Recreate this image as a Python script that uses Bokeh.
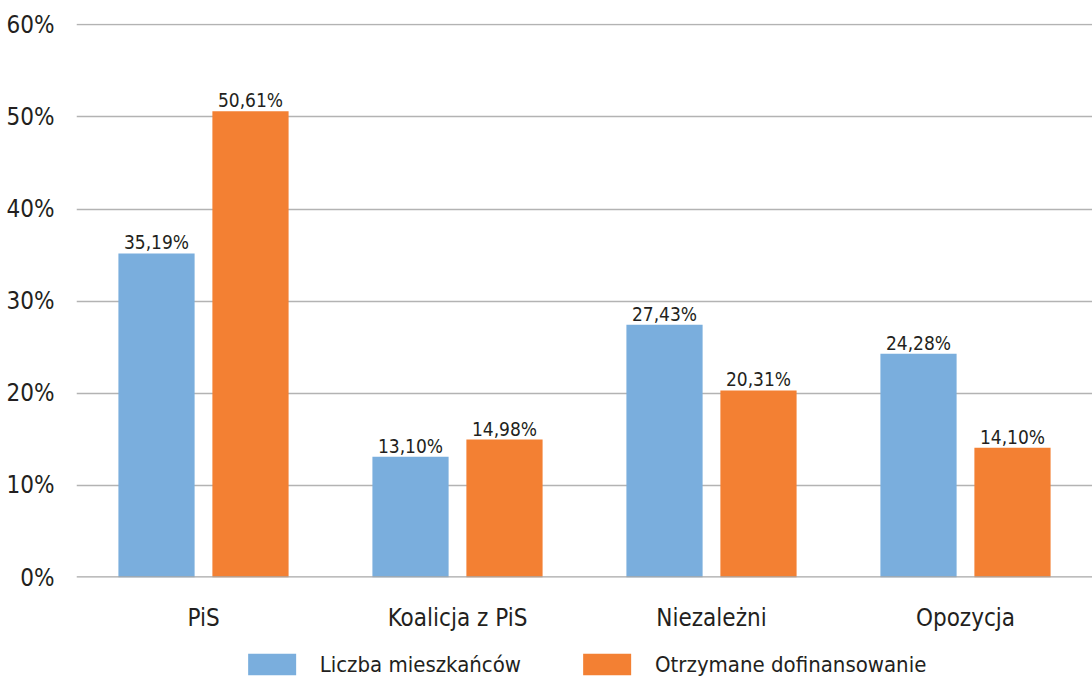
from bokeh.plotting import figure
from bokeh.models import (ColumnDataSource, FactorRange, Span, Legend, LegendItem,
                          FixedTicker, PrintfTickFormatter, Range1d)
from bokeh.layouts import column
from bokeh.transform import dodge
from bokeh.core.properties import value
from bokeh.embed import file_html
from bokeh.resources import INLINE

categories = ["PiS", "Koalicja z PiS", "Niezależni", "Opozycja"]
mieszkancy = [35.19, 13.10, 27.43, 24.28]
dofinansowanie = [50.61, 14.98, 20.31, 14.10]
series_names = ["Liczba mieszkańców", "Otrzymane dofinansowanie"]
y_ticks = [0, 10, 20, 30, 40, 50, 60]

FONT = "'Liberation Sans Narrow', 'DejaVu Sans Condensed', 'Roboto Condensed', Roboto, sans-serif"
BLUE = "#7aaedd"
ORANGE = "#f38033"
TEXT = "#231f20"


def fmt(v):
    return f"{v:.2f}".replace(".", ",") + "%"


src = ColumnDataSource(dict(
    cat=categories,
    m=mieszkancy,
    d=dofinansowanie,
    m_lbl=[fmt(v) for v in mieszkancy],
    d_lbl=[fmt(v) for v in dofinansowanie],
))

p = figure(x_range=FactorRange(*categories), y_range=Range1d(0, 60.15),
           width=1092, height=640, output_backend="svg", toolbar_location=None,
           min_border_left=76, min_border_top=23, min_border_right=0,
           min_border_bottom=63, outline_line_color=None)

off = 0.185
bw = 0.3
r1 = p.vbar(x=dodge("cat", -off, range=p.x_range), top="m", width=bw, source=src,
            fill_color=BLUE, line_color=None)
r2 = p.vbar(x=dodge("cat", off, range=p.x_range), top="d", width=bw, source=src,
            fill_color=ORANGE, line_color=None)

for key, o in (("m_lbl", -off), ("d_lbl", off)):
    p.text(x=dodge("cat", o, range=p.x_range), y=key[0], text=key, source=src,
           text_font=value(FONT), text_font_size="19px", text_color=TEXT,
           text_align="center", text_baseline="alphabetic", y_offset=-11)

p.add_layout(Span(location=0, dimension="width", line_color="#a7a7a7",
                  line_width=2.5))

p.yaxis.ticker = FixedTicker(ticks=y_ticks)
p.yaxis.formatter = PrintfTickFormatter(format="%d%%")
p.yaxis.axis_line_color = None
p.yaxis.major_tick_line_color = None
p.yaxis.minor_tick_line_color = None
p.yaxis.major_label_standoff = 16
p.yaxis.major_label_text_font = FONT
p.yaxis.major_label_text_font_size = "24px"
p.yaxis.major_label_text_color = TEXT

p.xaxis.axis_line_color = None
p.xaxis.major_tick_line_color = None
p.xaxis.major_label_standoff = 20
p.xaxis.major_label_text_font = FONT
p.xaxis.major_label_text_font_size = "24px"
p.xaxis.major_label_text_color = TEXT

p.xgrid.grid_line_color = None
p.ygrid.grid_line_color = "#b3b3b3"
p.ygrid.grid_line_width = 1.3

# legend strip below the chart (helper renderers fall outside its range)
lf = figure(width=1092, height=38, x_range=Range1d(0, 1), y_range=Range1d(0, 1),
            output_backend="svg", toolbar_location=None,
            x_axis_location=None, y_axis_location=None,
            min_border_left=60, min_border_right=0, min_border_top=10,
            min_border_bottom=0, outline_line_color=None)
lf.xgrid.grid_line_color = None
lf.ygrid.grid_line_color = None
lr1 = lf.vbar(x="m", top="m", width=bw, source=src, fill_color=BLUE, line_color=None)
lr2 = lf.vbar(x="d", top="d", width=bw, source=src, fill_color=ORANGE, line_color=None)
legend = Legend(items=[LegendItem(label=series_names[0], renderers=[lr1], index=0),
                       LegendItem(label=series_names[1], renderers=[lr2], index=0)],
                orientation="horizontal", location="center",
                glyph_width=60, glyph_height=27, spacing=56, label_standoff=18,
                padding=0, margin=0, border_line_color=None,
                background_fill_alpha=0,
                label_text_font=FONT, label_text_font_size="22px",
                label_text_color=TEXT)
lf.add_layout(legend, "center")

layout = column(p, lf, spacing=0)
open("out.html", "w").write(file_html(layout, INLINE))
